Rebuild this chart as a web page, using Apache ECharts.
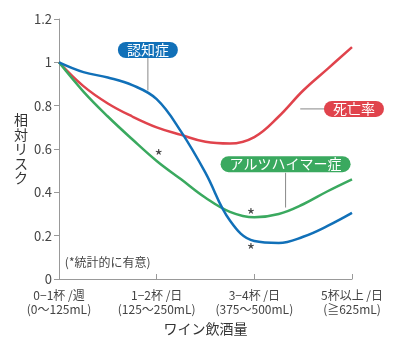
<!DOCTYPE html>
<html>
<head>
<meta charset="utf-8">
<script src="https://cdn.jsdelivr.net/npm/echarts@6/dist/echarts.min.js"></script>
<style>
  html, body { margin: 0; padding: 0; background: #fff; }
  #chart { width: 400px; height: 350px; }
</style>
</head>
<body>
<div id="chart"></div>
<script>
// x positions are in category units (0 = 0-1杯/週 ... 3 = 5杯以上/日), read every quarter step
const xLabels = ['0−1杯 /週\n(0〜125mL)', '1−2杯 /日\n(125〜250mL)', '3−4杯 /日\n(375〜500mL)', '5杯以上 /日\n(≧625mL)'];
const xs = [0, 0.25, 0.5, 0.75, 1, 1.25, 1.5, 1.75, 2, 2.25, 2.5, 2.75, 3];

const dementia = [1, 0.955, 0.93, 0.895, 0.83, 0.68, 0.49, 0.27, 0.175, 0.166, 0.195, 0.245, 0.305];
const mortality = [1, 0.89, 0.81, 0.75, 0.70, 0.665, 0.633, 0.625, 0.655, 0.75, 0.87, 0.97, 1.07];
const alzheimer = [1, 0.865, 0.75, 0.645, 0.545, 0.46, 0.375, 0.31, 0.285, 0.30, 0.345, 0.405, 0.46];

const BLUE = '#1170b8';
const RED = '#e0434c';
const GREEN = '#3aa95f';

const chart = echarts.init(document.getElementById('chart'));
const font = '"Noto Sans CJK JP", "Noto Sans", sans-serif';
const pairs = ys => ys.map((y, i) => [xs[i], y]);

chart.setOption({
  animation: false,
  textStyle: { fontFamily: font },
  grid: { left: 59, right: 48, top: 19, bottom: 71 },
  xAxis: {
    type: 'value',
    min: 0, max: 3, interval: 1,
    name: 'ワイン飲酒量',
    nameLocation: 'middle',
    nameGap: 43,
    nameTextStyle: { fontSize: 14, color: '#333', fontFamily: font },
    axisLine: { lineStyle: { color: '#999' } },
    axisTick: { inside: true, length: 5, lineStyle: { color: '#999' } },
    splitLine: { show: false },
    axisLabel: {
      margin: 9,
      fontSize: 12,
      lineHeight: 14,
      color: '#444',
      formatter: v => xLabels[v] || ''
    }
  },
  yAxis: {
    type: 'value',
    min: 0, max: 1.2, interval: 0.2,
    name: '相\n対\nリ\nス\nク',
    nameLocation: 'middle',
    nameRotate: 0,
    nameGap: 37,
    nameTextStyle: { fontSize: 14, lineHeight: 14.5, color: '#333', align: 'center', verticalAlign: 'middle', fontFamily: font },
    axisLine: { show: true, lineStyle: { color: '#999' } },
    axisTick: { show: true, length: 5, lineStyle: { color: '#999' } },
    splitLine: { show: false },
    axisLabel: { margin: 7, fontSize: 13, color: '#444' }
  },
  series: [
    { type: 'line', name: '死亡率', data: pairs(mortality), smooth: 0.4, showSymbol: false, lineStyle: { color: RED, width: 2.5 } },
    { type: 'line', name: 'アルツハイマー症', data: pairs(alzheimer), smooth: 0.4, showSymbol: false, lineStyle: { color: GREEN, width: 2.5 } },
    { type: 'line', name: '認知症', data: pairs(dementia), smooth: 0.4, showSymbol: false, lineStyle: { color: BLUE, width: 2.5 } }
  ]
});

// annotations anchored in data coordinates
const px = p => chart.convertToPixel({ gridIndex: 0 }, p);
const pill = (text, at, color) => {
  const c = px(at);
  return {
    type: 'text', x: c[0], y: c[1], z: 10,
    style: {
      text, fill: '#fff', font: '14px ' + font,
      align: 'center', verticalAlign: 'middle',
      backgroundColor: color, borderRadius: 9, padding: [1, 9, 1, 9]
    }
  };
};
const leader = (a, b) => {
  const p1 = px(a), p2 = px(b);
  return { type: 'line', z: 5, shape: { x1: p1[0], y1: p1[1], x2: p2[0], y2: p2[1] }, style: { stroke: '#888', lineWidth: 1 } };
};
const star = at => {
  const c = px(at);
  return { type: 'text', x: c[0], y: c[1], style: { text: '*', fill: '#444', font: '18px ' + font, align: 'center', verticalAlign: 'middle' } };
};
const note = px([0.06, 0.078]);

chart.setOption({
  graphic: [
    leader([0.91, 1.02], [0.91, 0.87]),
    leader([2.47, 0.785], [2.73, 0.785]),
    leader([2.32, 0.49], [2.32, 0.33]),
    pill('認知症', [0.91, 1.057], BLUE),
    pill('死亡率', [3.02, 0.785], RED),
    pill('アルツハイマー症', [2.32, 0.53], GREEN),
    star([1.02, 0.565]),
    star([1.965, 0.295]),
    star([1.965, 0.135]),
    { type: 'text', x: note[0], y: note[1], style: { text: '(*統計的に有意)', fill: '#444', font: '12px ' + font, align: 'left', verticalAlign: 'middle' } }
  ]
});
</script>
</body>
</html>
